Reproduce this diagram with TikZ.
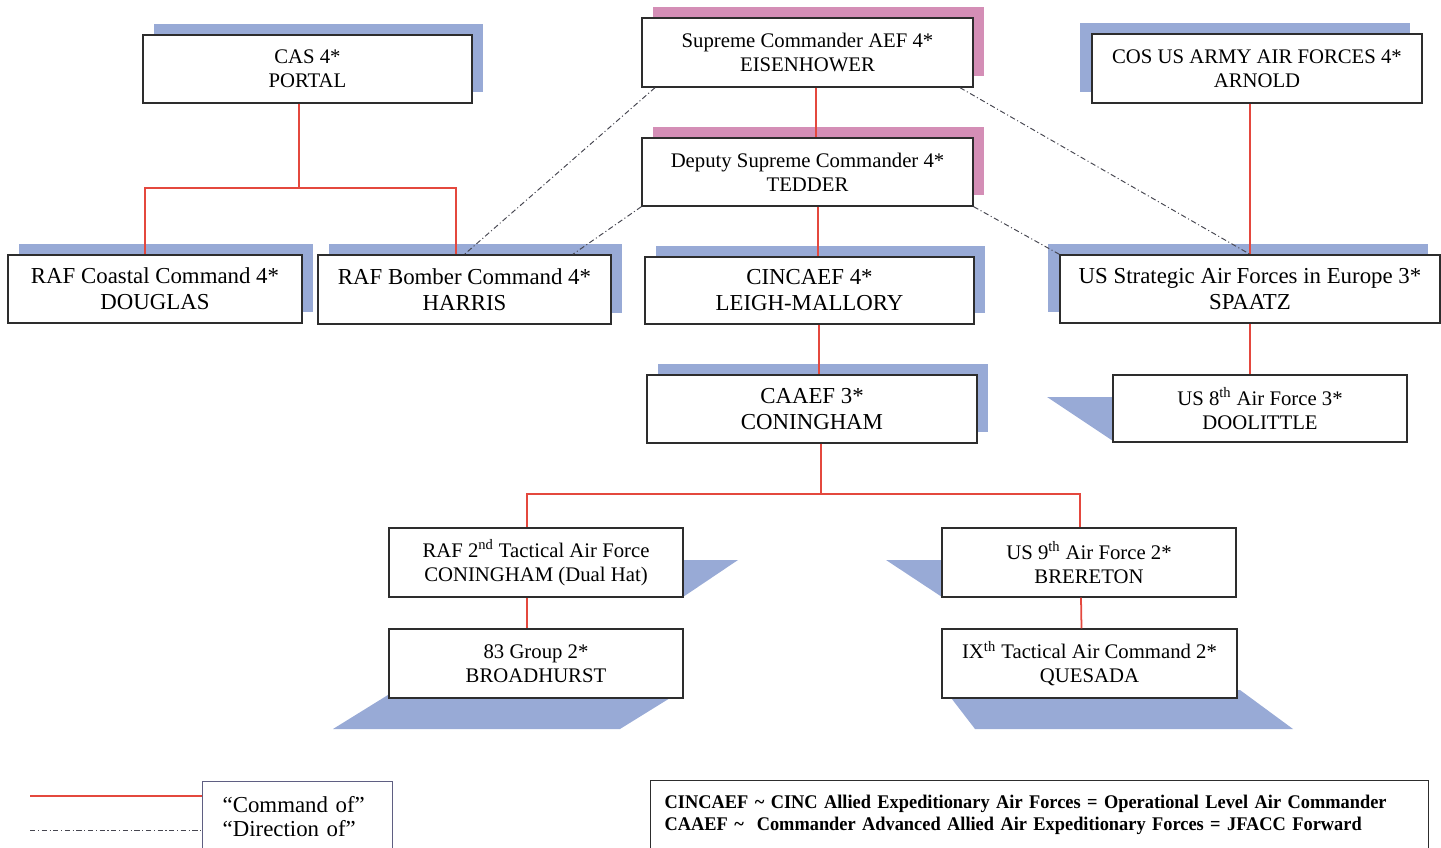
\documentclass[tikz,border=0pt]{standalone}
\usepackage{fontspec}
\setmainfont{Liberation Serif}
\newfontfamily\glossfont{Liberation Serif}[FakeStretch=0.95]
\usepackage{xcolor}
\usetikzlibrary{shadows}

\definecolor{boxline}{RGB}{45,45,45}
\definecolor{cmdred}{RGB}{228,72,62}
\definecolor{dirgray}{RGB}{70,70,80}
\definecolor{shadeblue}{RGB}{152,170,214}
\definecolor{shadepink}{RGB}{212,142,182}
\definecolor{keyline}{RGB}{95,95,130}

\begin{document}
\begin{tikzpicture}[x=0.02cm, y=-0.02cm,
    unit/.style={draw=boxline, line width=0.8pt, fill=white, align=center, inner sep=1pt, font=\fontsize{11.8}{13.6}\selectfont},
    bigunit/.style={unit, font=\fontsize{13}{14.8}\selectfont},
    blueshade/.style={general shadow={fill=shadeblue, shadow xshift=6.2pt, shadow yshift=6.2pt}},
    pinkshade/.style={general shadow={fill=shadepink, shadow xshift=6.2pt, shadow yshift=6.2pt}},
    leftshade/.style={general shadow={fill=shadeblue, shadow xshift=-6.8pt, shadow yshift=6.2pt}},
    command/.style={draw=cmdred, line width=1pt},
    direction/.style={draw=dirgray, line width=0.55pt, dash pattern=on 3pt off 1.5pt on 0.6pt off 1.5pt}]

    \clip (0,0) rectangle (1441,848);

    % slanted shadows
    \fill[shadeblue] (1047,397) -- (1120,397) -- (1120,441) -- (1113,441) -- cycle;
    \fill[shadeblue] (600,560) -- (738,560) -- (683,597) -- (600,597) -- cycle;
    \fill[shadeblue] (886,560) -- (1000,560) -- (1000,597) -- (942,597) -- cycle;
    \fill[shadeblue] (396,690) -- (683,690) -- (620,729) -- (333,729) -- cycle;
    \fill[shadeblue] (945,690) -- (1240,690) -- (1293,729) -- (975,729) -- cycle;

    \node[unit, blueshade, minimum width=65.8mm, minimum height=13.6mm] (portal) at (307.5,69) {CAS 4*\\PORTAL};
    \node[unit, pinkshade, minimum width=66.2mm, minimum height=13.8mm] (ike) at (807.5,52.5) {Supreme Commander AEF 4*\\EISENHOWER};
    \node[unit, leftshade, minimum width=66mm, minimum height=13.8mm] (arnold) at (1257,68.5) {COS US ARMY AIR FORCES 4*\\ARNOLD};
    \node[unit, pinkshade, minimum width=66.2mm, minimum height=13.6mm] (tedder) at (807.5,172) {Deputy Supreme Commander 4*\\TEDDER};

    \node[bigunit, blueshade, minimum width=58.8mm, minimum height=13.6mm] (coastal) at (155,289) {RAF Coastal Command 4*\\DOUGLAS};
    \node[bigunit, blueshade, minimum width=58.6mm, minimum height=13.8mm] (bomber) at (464.5,289.5) {RAF Bomber Command 4*\\HARRIS};
    \node[bigunit, blueshade, minimum width=65.8mm, minimum height=13.4mm] (leigh) at (809.5,290.5) {CINCAEF 4*\\LEIGH-MALLORY};
    \node[bigunit, leftshade, minimum width=76mm, minimum height=13.6mm] (spaatz) at (1250,289) {US Strategic Air Forces in Europe 3*\\SPAATZ};

    \node[bigunit, blueshade, minimum width=66mm, minimum height=13.6mm] (caaef) at (812,409) {CAAEF 3*\\CONINGHAM};
    \node[unit, minimum width=58.8mm, minimum height=13.4mm] (doolittle) at (1260,408.5) {US 8\textsuperscript{th} Air Force 3*\\DOOLITTLE};

    \node[unit, minimum width=58.8mm, minimum height=13.8mm] (taf) at (536,562.5) {RAF 2\textsuperscript{nd} Tactical Air Force\\CONINGHAM (Dual Hat)};
    \node[unit, minimum width=58.8mm, minimum height=13.8mm] (ninth) at (1089,562.5) {US 9\textsuperscript{th} Air Force 2*\\BRERETON};
    \node[unit, minimum width=58.8mm, minimum height=13.8mm] (broad) at (536,663.5) {83 Group 2*\\BROADHURST};
    \node[unit, minimum width=59mm, minimum height=13.8mm] (quesada) at (1089.5,663.5) {IX\textsuperscript{th} Tactical Air Command 2*\\QUESADA};

    % legend
    \node[draw=keyline, line width=0.8pt, anchor=north west, text width=30mm, inner xsep=4mm, minimum height=13.8mm, align=left,
          font=\fontsize{13}{13.8}\selectfont] (legendkey) at (202,781) {``Command of''\\``Direction of''};
    \node[draw=boxline, line width=0.8pt, anchor=north west, text width=150mm, inner xsep=2.8mm, minimum height=13.8mm, align=left,
          font=\glossfont\bfseries\fontsize{11}{12.4}\selectfont] (glossary) at (650,780)
          {CINCAEF \textasciitilde{} CINC Allied Expeditionary Air Forces = Operational Level Air Commander\\
           CAAEF \textasciitilde{}\ \ Commander Advanced Allied Air Expeditionary Forces = JFACC Forward};
    \coordinate (cmdfrom) at (30,796);
    \coordinate (dirfrom) at (30,830);
    \draw[command] (cmdfrom) -- (legendkey.west |- cmdfrom);
    \draw[direction] (dirfrom) -- (legendkey.west |- dirfrom);

    % command of
    \draw[command] ([xshift=-0.17cm]portal.south) -- ++(0,84) coordinate (portaljoin) -| ([xshift=-0.2cm]coastal.north)
                   (portaljoin) -| ([xshift=-0.17cm]bomber.north);
    \draw[command] ([xshift=0.17cm]ike.south) -- ([xshift=0.17cm]ike.south |- tedder.north);
    \draw[command] ([xshift=0.21cm]tedder.south) -- ([xshift=0.21cm]tedder.south |- leigh.north);
    \draw[command] ([xshift=0.19cm]leigh.south) -- ([xshift=0.19cm]leigh.south |- caaef.north);
    \draw[command] ([xshift=0.18cm]caaef.south) -- ++(0,50) coordinate (caaefjoin) -| ([xshift=-0.18cm]taf.north)
                   (caaefjoin) -| ([xshift=-0.18cm]ninth.north);
    \draw[command] ([xshift=-0.18cm]taf.south) -- ([xshift=-0.18cm]broad.north);
    \draw[command] ([xshift=-0.16cm]ninth.south) -- ([xshift=-0.16cm]quesada.north);
    \draw[command] (spaatz.north |- arnold.south) -- (spaatz.north);
    \draw[command] (spaatz.south) -- (spaatz.south |- doolittle.north);

    % direction of
    \draw[direction] (ike.193) -- (bomber.north);
    \draw[direction] (tedder.south west) -- (bomber.18);
    \draw[direction] (ike.-13) -- (spaatz.north);
    \draw[direction] (tedder.south east) -- (spaatz.north west);
\end{tikzpicture}
\end{document}
